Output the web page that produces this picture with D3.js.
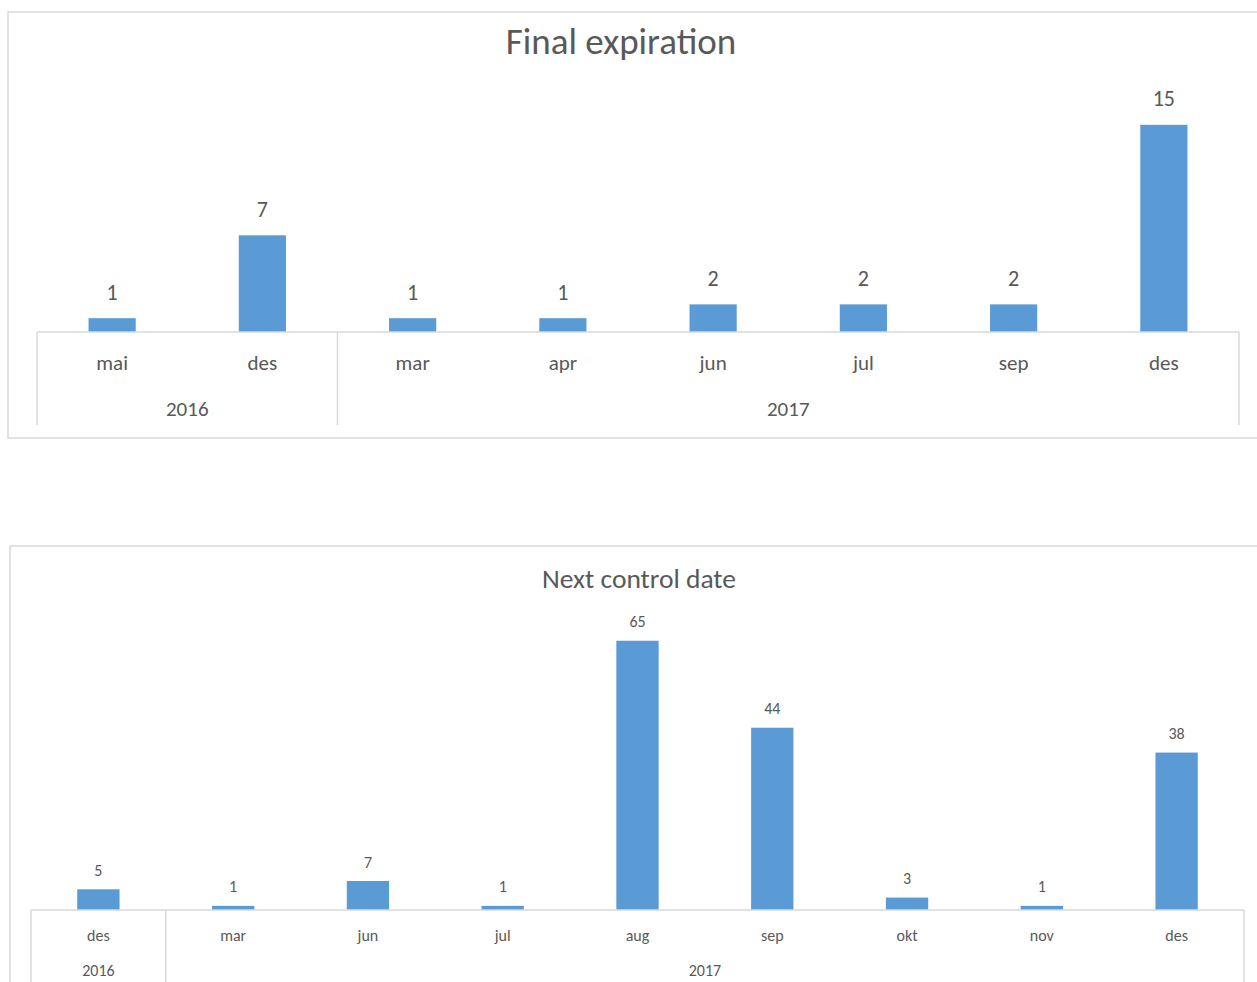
<!DOCTYPE html>
<html>
<head>
<meta charset="utf-8">
<script src="https://cdn.jsdelivr.net/npm/d3@7"></script>
<style>
  body { margin: 0; background: #fff; }
  svg { display: block; }
  text { font-family: Calibri, Carlito, Lato, sans-serif; fill: #595959; }
</style>
</head>
<body>
<div id="chart"></div>
<script>
// Final expiration
const finalMonths = ["mai", "des", "mar", "apr", "jun", "jul", "sep", "des"];
const finalYears = ["2016", "2016", "2017", "2017", "2017", "2017", "2017", "2017"];
const finalValues = [1, 7, 1, 1, 2, 2, 2, 15];

// Next control date
const nextMonths = ["des", "mar", "jun", "jul", "aug", "sep", "okt", "nov", "des"];
const nextYears = ["2016", "2017", "2017", "2017", "2017", "2017", "2017", "2017", "2017"];
const nextValues = [5, 1, 7, 1, 65, 44, 3, 1, 38];

const W = 1257, H = 982;
const barColor = "#5b9bd5";
const lineColor = "#d9d9d9";

const svg = d3.select("#chart").append("svg")
    .attr("width", W)
    .attr("height", H);

function drawChart(opts) {
    const g = svg.append("g");

    // chart frame (runs off the right edge, like the screenshot)
    g.append("rect")
        .attr("x", opts.box[0]).attr("y", opts.box[1])
        .attr("width", opts.box[2]).attr("height", opts.box[3])
        .attr("fill", "none")
        .attr("stroke", lineColor)
        .attr("stroke-width", 1.5);

    g.append("text")
        .attr("x", opts.titleX).attr("y", opts.titleY)
        .attr("text-anchor", "middle")
        .attr("dominant-baseline", "central")
        .style("font-size", opts.titleSize + "px")
        .text(opts.title);

    const idx = d3.range(opts.months.length);
    const x = d3.scaleBand()
        .domain(idx)
        .range([opts.x0, opts.x1])
        .paddingInner(0.686)
        .paddingOuter(0.343);

    const y = d3.scaleLinear()
        .domain([0, opts.yMax])
        .range([opts.axisY, opts.plotTop]);

    // bars
    g.append("g")
        .selectAll("rect")
        .data(idx)
        .enter()
        .append("rect")
        .attr("x", i => x(i))
        .attr("y", i => y(opts.values[i]))
        .attr("width", x.bandwidth())
        .attr("height", i => y(0) - y(opts.values[i]))
        .attr("fill", barColor);

    // value labels
    g.append("g")
        .selectAll("text")
        .data(idx)
        .enter()
        .append("text")
        .attr("x", i => x(i) + x.bandwidth() / 2)
        .attr("y", i => y(opts.values[i]) - opts.labelGap)
        .attr("text-anchor", "middle")
        .attr("dominant-baseline", "central")
        .style("font-size", opts.valueSize + "px")
        .text(i => opts.values[i]);

    // category axis line
    g.append("line")
        .attr("x1", opts.x0).attr("x2", opts.x1)
        .attr("y1", opts.axisY).attr("y2", opts.axisY)
        .attr("stroke", lineColor)
        .attr("stroke-width", 1.5);

    // month labels
    g.append("g")
        .selectAll("text")
        .data(idx)
        .enter()
        .append("text")
        .attr("x", i => x(i) + x.bandwidth() / 2)
        .attr("y", opts.monthY)
        .attr("text-anchor", "middle")
        .attr("dominant-baseline", "central")
        .style("font-size", opts.labelSize + "px")
        .text(i => opts.months[i]);

    // year groups: dividers + labels
    const groups = [];
    idx.forEach(i => {
        const last = groups[groups.length - 1];
        if (last && last.year === opts.years[i]) last.end = i;
        else groups.push({ year: opts.years[i], start: i, end: i });
    });
    const step = x.step();
    const left = i => opts.x0 + i * step;

    const edges = groups.map(gr => left(gr.start)).concat([opts.x1]);
    g.append("g")
        .selectAll("line")
        .data(edges)
        .enter()
        .append("line")
        .attr("x1", d => d).attr("x2", d => d)
        .attr("y1", opts.axisY).attr("y2", opts.dividerBottom)
        .attr("stroke", lineColor)
        .attr("stroke-width", 1.5);

    g.append("g")
        .selectAll("text")
        .data(groups)
        .enter()
        .append("text")
        .attr("x", d => (left(d.start) + left(d.end + 1)) / 2)
        .attr("y", opts.yearY)
        .attr("text-anchor", "middle")
        .attr("dominant-baseline", "central")
        .style("font-size", opts.labelSize + "px")
        .text(d => d.year);
}

drawChart({
    title: "Final expiration",
    months: finalMonths, years: finalYears, values: finalValues,
    box: [8, 12, 1300, 426],
    titleX: 621, titleY: 41, titleSize: 37,
    x0: 37, x1: 1239,
    axisY: 332, plotTop: 111, yMax: 16,
    labelSize: 21, valueSize: 22, labelGap: 26,
    monthY: 363, yearY: 409, dividerBottom: 425
});

drawChart({
    title: "Next control date",
    months: nextMonths, years: nextYears, values: nextValues,
    box: [10, 546, 1300, 500],
    titleX: 639, titleY: 578, titleSize: 27.5,
    x0: 31, x1: 1244,
    axisY: 910, plotTop: 620, yMax: 70,
    labelSize: 16, valueSize: 16, labelGap: 19,
    monthY: 935, yearY: 970, dividerBottom: 990
});
</script>
</body>
</html>
